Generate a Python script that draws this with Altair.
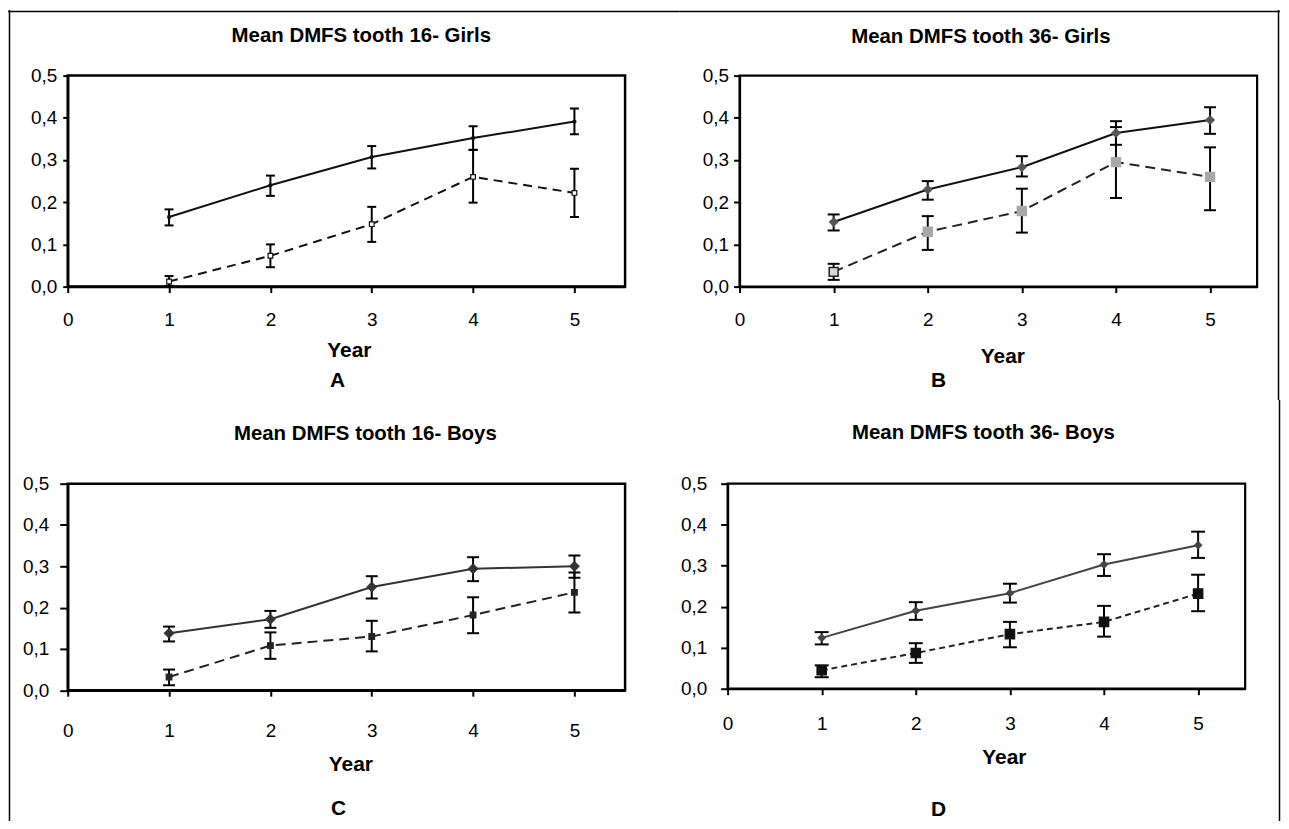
import altair as alt
import pandas as pd

# ---------------- data ----------------
YEARS = [1, 2, 3, 4, 5]
X_TICKS = [0, 1, 2, 3, 4, 5]
Y_TICKS = [0.0, 0.1, 0.2, 0.3, 0.4, 0.5]
X_DOMAIN = [0, 5.5]
Y_DOMAIN = [0, 0.5]
X_TITLE = "Year"

TITLES = {
    "A": "Mean DMFS tooth 16- Girls",
    "B": "Mean DMFS tooth 36- Girls",
    "C": "Mean DMFS tooth 16- Boys",
    "D": "Mean DMFS tooth 36- Boys",
}

A_SOLID = [0.165, 0.240, 0.307, 0.352, 0.391]
A_SOLID_LO = [0.145, 0.215, 0.280, 0.324, 0.361]
A_SOLID_HI = [0.183, 0.263, 0.333, 0.380, 0.422]
A_DASH = [0.012, 0.073, 0.148, 0.260, 0.222]
A_DASH_LO = [0.002, 0.046, 0.106, 0.199, 0.165]
A_DASH_HI = [0.025, 0.100, 0.189, 0.324, 0.279]

B_SOLID = [0.153, 0.230, 0.283, 0.364, 0.395]
B_SOLID_LO = [0.133, 0.206, 0.261, 0.336, 0.362]
B_SOLID_HI = [0.171, 0.250, 0.309, 0.392, 0.425]
B_DASH = [0.035, 0.130, 0.179, 0.295, 0.260]
B_DASH_LO = [0.016, 0.087, 0.128, 0.210, 0.181]
B_DASH_HI = [0.054, 0.167, 0.232, 0.378, 0.330]

C_SOLID = [0.138, 0.172, 0.250, 0.294, 0.300]
C_SOLID_LO = [0.118, 0.151, 0.222, 0.264, 0.272]
C_SOLID_HI = [0.154, 0.192, 0.276, 0.322, 0.326]
C_DASH = [0.032, 0.108, 0.130, 0.182, 0.237]
C_DASH_LO = [0.012, 0.076, 0.094, 0.138, 0.188]
C_DASH_HI = [0.050, 0.140, 0.168, 0.225, 0.285]

D_SOLID = [0.124, 0.190, 0.233, 0.303, 0.350]
D_SOLID_LO = [0.108, 0.168, 0.210, 0.275, 0.319]
D_SOLID_HI = [0.138, 0.211, 0.256, 0.328, 0.383]
D_DASH = [0.045, 0.087, 0.133, 0.163, 0.232]
D_DASH_LO = [0.028, 0.063, 0.101, 0.127, 0.189]
D_DASH_HI = [0.057, 0.111, 0.163, 0.202, 0.278]

# ---------------- layout / style (page pixel coords) ----------------
FONT = "Liberation Sans"

LAYOUT = {
    "A": dict(origin=(68, 74), size=(560, 212), cell=(8, 683, 8, 400),
              title=(363, 40), year=(350.5, 356), letter=(339, 387),
              ypad=6, ytick=5, xpad=18, frame=("top", "left")),
    "B": dict(origin=(738, 74), size=(520, 212), cell=(678, 1281, 8, 400),
              title=(980.5, 41), year=(1002, 362), letter=(938, 387),
              ypad=5, ytick=6, xpad=18, frame=("top", "right")),
    "C": dict(origin=(68, 484), size=(560, 207.5), cell=(8, 683, 400, 823),
              title=(367, 440), year=(352, 772), letter=(340, 817),
              ypad=11, ytick=8, xpad=26, frame=("left",)),
    "D": dict(origin=(725, 484), size=(520, 206), cell=(683, 1281, 400, 823),
              title=(982, 439), year=(1002.5, 765), letter=(937, 818),
              ypad=14, ytick=7, xpad=20, frame=("right",)),
}

STYLE = {
    "A": dict(s_color="#111", s_shape="circle", s_size=14, s_fill="#111",
              d_color="#111", d_dash=[9, 6], d_shape="square", d_size=22,
              d_fill="white", d_stroke="#111", cap=9, box=2.5),
    "B": dict(s_color="#111", s_shape="diamond", s_size=90, s_fill="#555",
              d_color="#222", d_dash=[10, 6], d_shape="square", d_size=80,
              d_fill="#a8a8a8", d_stroke="#a8a8a8", cap=12, box=2.2),
    "C": dict(s_color="#333", s_shape="diamond", s_size=110, s_fill="#333",
              d_color="#222", d_dash=[10, 6], d_shape="square", d_size=32,
              d_fill="#222", d_stroke="#222", cap=12, box=2.5),
    "D": dict(s_color="#444", s_shape="diamond", s_size=70, s_fill="#444",
              d_color="#222", d_dash=[6, 4], d_shape="square", d_size=90,
              d_fill="#111", d_stroke="#111", cap=14, box=2.2),
}

ONE = pd.DataFrame({"k": [0]})
FRAME_W = 1.5


def panel(key, solid, s_lo, s_hi, dash, d_lo, d_hi):
    L = LAYOUT[key]
    S = STYLE[key]
    ox, oy = L["origin"]
    w, h = L["size"]

    def lx(px):
        return px - ox

    def ly(py):
        return py - oy

    df_s = pd.DataFrame({"year": YEARS, "mean": solid, "lo": s_lo, "hi": s_hi})
    df_d = pd.DataFrame({"year": YEARS, "mean": dash, "lo": d_lo, "hi": d_hi})

    xs = alt.Scale(domain=X_DOMAIN, nice=False, zero=False)
    ys = alt.Scale(domain=Y_DOMAIN, nice=False)
    xaxis = alt.Axis(values=X_TICKS, format="d", title=X_TITLE,
                     titleX=lx(L["year"][0]), titleY=L["year"][1] - (oy + h),
                     titleAlign="center", titleBaseline="alphabetic",
                     labelPadding=L["xpad"], tickSize=6, labelFlush=False,
                     labelOverlap=False, domainWidth=S["box"])
    yaxis = alt.Axis(values=Y_TICKS, title=None,
                     labelExpr="replace(format(datum.value, '.1f'), '.', ',')",
                     labelPadding=L["ypad"], tickSize=L["ytick"], labelFlush=False,
                     labelOverlap=False, domainWidth=S["box"])

    def X(f):
        return alt.X(f"{f}:Q", scale=xs, axis=xaxis)

    def Y(f):
        return alt.Y(f"{f}:Q", scale=ys, axis=yaxis)

    cx1, cx2, cy1, cy2 = L["cell"]
    layers = []
    # invisible anchor defining the cell of this panel in the grid
    layers.append(alt.Chart(ONE).mark_rect(opacity=0).encode(
        x=alt.value(lx(cx1)), x2=alt.value(lx(cx2)),
        y=alt.value(ly(cy1)), y2=alt.value(ly(cy2))))
    # outer figure frame pieces
    for side in L["frame"]:
        if side == "top":
            fx1, fx2, fy1, fy2 = cx1, cx2, 8.75, 8.75 + FRAME_W
        elif side == "left":
            fx1, fx2, fy1, fy2 = 8.75, 8.75 + FRAME_W, cy1, cy2
        else:
            fx1, fx2, fy1, fy2 = 1279.5 - FRAME_W / 2, 1279.5 + FRAME_W / 2, cy1, cy2
        layers.append(alt.Chart(ONE).mark_rect(color="black", opacity=1).encode(
            x=alt.value(lx(fx1)), x2=alt.value(lx(fx2)),
            y=alt.value(ly(fy1)), y2=alt.value(ly(fy2))))

    # plot-area box drawn in data coordinates
    layers.append(alt.Chart(ONE).mark_rect(filled=False, stroke="black",
                                           strokeWidth=S["box"], opacity=1).encode(
        x=alt.datum(X_DOMAIN[0], scale=xs), x2=alt.datum(X_DOMAIN[1]),
        y=alt.datum(Y_DOMAIN[0], scale=ys), y2=alt.datum(Y_DOMAIN[1])))

    layers.append(alt.Chart(df_d).mark_line(color=S["d_color"], strokeWidth=2,
                                             strokeDash=S["d_dash"]).encode(
        x=X("year"), y=Y("mean")))
    layers.append(alt.Chart(df_s).mark_line(color=S["s_color"], strokeWidth=2).encode(
        x=X("year"), y=Y("mean")))

    for df in (df_s, df_d):
        layers.append(alt.Chart(df).mark_rule(color="black", strokeWidth=2).encode(
            x=X("year"), y=Y("lo"), y2="hi"))
        for f in ("lo", "hi"):
            layers.append(alt.Chart(df).mark_tick(orient="horizontal", size=S["cap"],
                                                  thickness=2, color="black",
                                                  opacity=1).encode(
                x=X("year"), y=Y(f)))

    layers.append(alt.Chart(df_s).mark_point(shape=S["s_shape"], size=S["s_size"],
                                             filled=True, fill=S["s_fill"],
                                             stroke=S["s_fill"], strokeWidth=0.5,
                                             opacity=1).encode(
        x=X("year"), y=Y("mean")))
    if key == "B":
        layers.append(alt.Chart(df_d).mark_point(shape=S["d_shape"], size=S["d_size"],
                                                 filled=True, opacity=1,
                                                 strokeWidth=1.5).encode(
            x=X("year"), y=Y("mean"),
            fill=alt.condition("datum.year == 1", alt.value("#d8d8d8"), alt.value(S["d_fill"])),
            stroke=alt.condition("datum.year == 1", alt.value("#222"), alt.value(S["d_stroke"]))))
    else:
        layers.append(alt.Chart(df_d).mark_point(shape=S["d_shape"], size=S["d_size"],
                                                 filled=True, fill=S["d_fill"],
                                                 stroke=S["d_stroke"], strokeWidth=1.2,
                                                 opacity=1).encode(
            x=X("year"), y=Y("mean")))

    tx, ty = L["title"]
    layers.append(alt.Chart(ONE).mark_text(font=FONT, fontSize=20.5, fontWeight="bold",
                                           align="center", baseline="alphabetic",
                                           color="black").encode(
        x=alt.value(lx(tx)), y=alt.value(ly(ty)), text=alt.value(TITLES[key])))
    gx, gy = L["letter"]
    layers.append(alt.Chart(ONE).mark_text(font=FONT, fontSize=21, fontWeight="bold",
                                           align="center", baseline="alphabetic",
                                           color="black").encode(
        x=alt.value(lx(gx)), y=alt.value(ly(gy)), text=alt.value(key)))

    return alt.layer(*layers).properties(width=w, height=h)


pA = panel("A", A_SOLID, A_SOLID_LO, A_SOLID_HI, A_DASH, A_DASH_LO, A_DASH_HI)
pB = panel("B", B_SOLID, B_SOLID_LO, B_SOLID_HI, B_DASH, B_DASH_LO, B_DASH_HI)
pC = panel("C", C_SOLID, C_SOLID_LO, C_SOLID_HI, C_DASH, C_DASH_LO, C_DASH_HI)
pD = panel("D", D_SOLID, D_SOLID_LO, D_SOLID_HI, D_DASH, D_DASH_LO, D_DASH_HI)

row1 = alt.hconcat(pA, pB, spacing=0)
row2 = alt.hconcat(pC, pD, spacing=0)

chart = alt.vconcat(row1, row2, spacing=0).properties(
    padding=0, background="white"
).configure_view(
    strokeWidth=0
).configure_axis(
    grid=False, domainColor="black", tickColor="black",
    tickWidth=2, labelColor="black", labelFont=FONT, labelFontSize=19,
    titleColor="black", titleFont=FONT, titleFontSize=21, titleFontWeight="bold",
)

chart.save("out.html", embed_options={"renderer": "svg", "actions": False})
